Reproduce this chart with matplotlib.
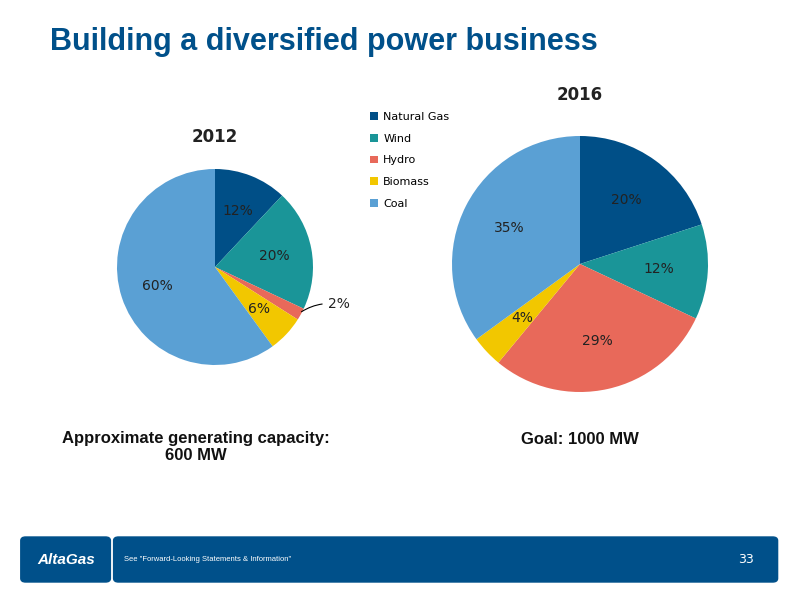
import numpy as np
import matplotlib.pyplot as plt
from matplotlib.patches import FancyBboxPatch

categories = ['Natural Gas', 'Wind', 'Hydro', 'Biomass', 'Coal']
share_2012 = [12, 20, 2, 6, 60]
share_2016 = [20, 12, 29, 4, 35]
colors = ['#004f87', '#1a9598', '#e8695a', '#f2c700', '#5aa0d4']
navy = '#00508a'

fig = plt.figure(figsize=(8, 6), dpi=100)
fig.text(0.063, 0.93, 'Building a diversified power business', fontsize=22,
         fontweight='bold', color=navy, ha='left', va='center',
         family='Liberation Sans')

def draw_pie(cx, cy, r, values, title, title_y):
    w, h = 2 * r / 800, 2 * r / 600
    ax = fig.add_axes([cx / 800 - w / 2, 1 - cy / 600 - h / 2, w, h])
    wedges, texts = ax.pie(values, colors=colors, startangle=90, counterclock=False,
                           wedgeprops=dict(linewidth=0))
    ax.set_xlim(-1, 1)
    ax.set_ylim(-1, 1)
    ax.set_aspect('equal')
    for wd, v in zip(wedges, values):
        ang = np.deg2rad((wd.theta1 + wd.theta2) / 2)
        if v < 3:
            x, y = np.cos(ang), np.sin(ang)
            ax.annotate(f'{v}%', xy=(x * 0.98, y * 0.98), xytext=(1.15, -0.38),
                        fontsize=10, ha='left', va='center', color='#222222',
                        arrowprops=dict(arrowstyle='-', color='black', lw=0.8,
                                        connectionstyle='arc3,rad=0.2'),
                        annotation_clip=False)
        else:
            d = 0.62
            ax.text(d * np.cos(ang), d * np.sin(ang), f'{v}%', fontsize=10,
                    ha='center', va='center', color='#222222')
    fig.text(cx / 800, 1 - title_y / 600, title, fontsize=12, fontweight='bold',
             ha='center', va='center', color='#222222')
    return wedges

wedges = draw_pie(215, 267, 98, share_2012, '2012', 137)
draw_pie(580, 264, 128, share_2016, '2016', 95)

fig.legend(wedges, categories, loc='upper left', bbox_to_anchor=(0.45, 0.83),
           frameon=False, fontsize=8, handlelength=0.7, handleheight=0.7,
           labelspacing=1.05, handletextpad=0.5)

fig.text(0.245, 0.255, 'Approximate generating capacity:\n600 MW', fontsize=12,
         fontweight='bold', ha='center', va='center', color='#111111',
         family='Liberation Sans')
fig.text(0.725, 0.268, 'Goal: 1000 MW', fontsize=12, fontweight='bold',
         ha='center', va='center', color='#111111', family='Liberation Sans')

# footer bar
fig.patches.append(FancyBboxPatch((0.026, 0.03), 0.112, 0.075, boxstyle='round,pad=0,rounding_size=0.006',
                                  transform=fig.transFigure, color=navy))
fig.patches.append(FancyBboxPatch((0.142, 0.03), 0.83, 0.075, boxstyle='round,pad=0,rounding_size=0.006',
                                  transform=fig.transFigure, color=navy))
fig.text(0.083, 0.0675, 'AltaGas', fontsize=11, fontweight='bold', style='italic',
         color='white', ha='center', va='center', family='Liberation Sans')
fig.text(0.155, 0.0675, 'See "Forward-Looking Statements & Information"', fontsize=5.5,
         color='white', ha='left', va='center', family='Liberation Sans')
fig.text(0.942, 0.0675, '33', fontsize=9, color='white', ha='right', va='center',
         family='DejaVu Sans')

fig.savefig('out.png', dpi=100)
